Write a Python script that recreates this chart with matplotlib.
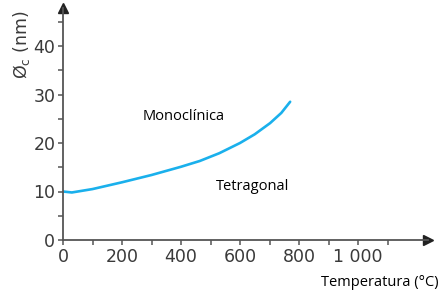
import numpy as np
import matplotlib
matplotlib.use("Agg")
import matplotlib.pyplot as plt
from matplotlib.ticker import FuncFormatter

# curva de diámetro crítico
temp = [0, 30, 100, 200, 300, 400, 464, 530, 600, 650, 702, 740, 770]
diam = [10.0, 9.8, 10.5, 11.9, 13.4, 15.1, 16.3, 17.9, 20.0, 21.8, 24.1, 26.2, 28.5]

x_ticks = [0, 200, 400, 600, 800, 1000]
y_ticks = [0, 10, 20, 30, 40]

axis_col = "#555555"
tick_col = "#3a3a3a"
line_col = "#1ab0ec"

fig = plt.figure(figsize=(4.38, 2.93), dpi=100)
ax = fig.add_axes([63 / 438, 53 / 293, 365 / 438, 232 / 293])
ax.set_xlim(0, 365 / 59 * 200)
ax.set_ylim(0, 232 / 48.5 * 10)

ax.plot(temp, diam, color=line_col, lw=1.9, solid_capstyle="round",
        solid_joinstyle="round")

for s in ["top", "right"]:
    ax.spines[s].set_visible(False)
for s in ["left", "bottom"]:
    ax.spines[s].set_color(axis_col)
    ax.spines[s].set_linewidth(1.3)

# flechas de los ejes
ax.plot(1, 0, ">", color="#222222", ms=7, transform=ax.transAxes, clip_on=False)
ax.plot(0, 1, "^", color="#222222", ms=7, transform=ax.transAxes, clip_on=False)

ax.set_xticks(x_ticks)
ax.set_yticks(y_ticks)
ax.set_xticks([t for t in np.arange(100, 1200, 100) if t not in x_ticks], minor=True)
ax.set_yticks([5, 15, 25, 35, 45], minor=True)
ax.xaxis.set_major_formatter(FuncFormatter(lambda v, p: f"{int(v):,}".replace(",", " ")))
ax.tick_params(which="both", length=3.5, width=1.1, color=axis_col,
               labelsize=12.5, labelcolor=tick_col, pad=2)

ax.text(410, 25.4, "Monoclínica", fontsize=10.5, family="Open Sans",
        ha="center", va="center", color="black")
ax.text(644, 11.1, "Tetragonal", fontsize=10.5, family="Open Sans",
        ha="center", va="center", color="black")

fig.text(380 / 438, 1 - 282 / 293, "Temperatura (°C)", fontsize=10.5,
         family="Open Sans", ha="center", va="center", color="black")
fig.text(22 / 438, 1 - 45 / 293, "Ø$_\\mathrm{c}$ (nm)", fontsize=12.5,
         rotation=90, ha="center", va="center", color=tick_col)

fig.savefig("out.png", dpi=100)
